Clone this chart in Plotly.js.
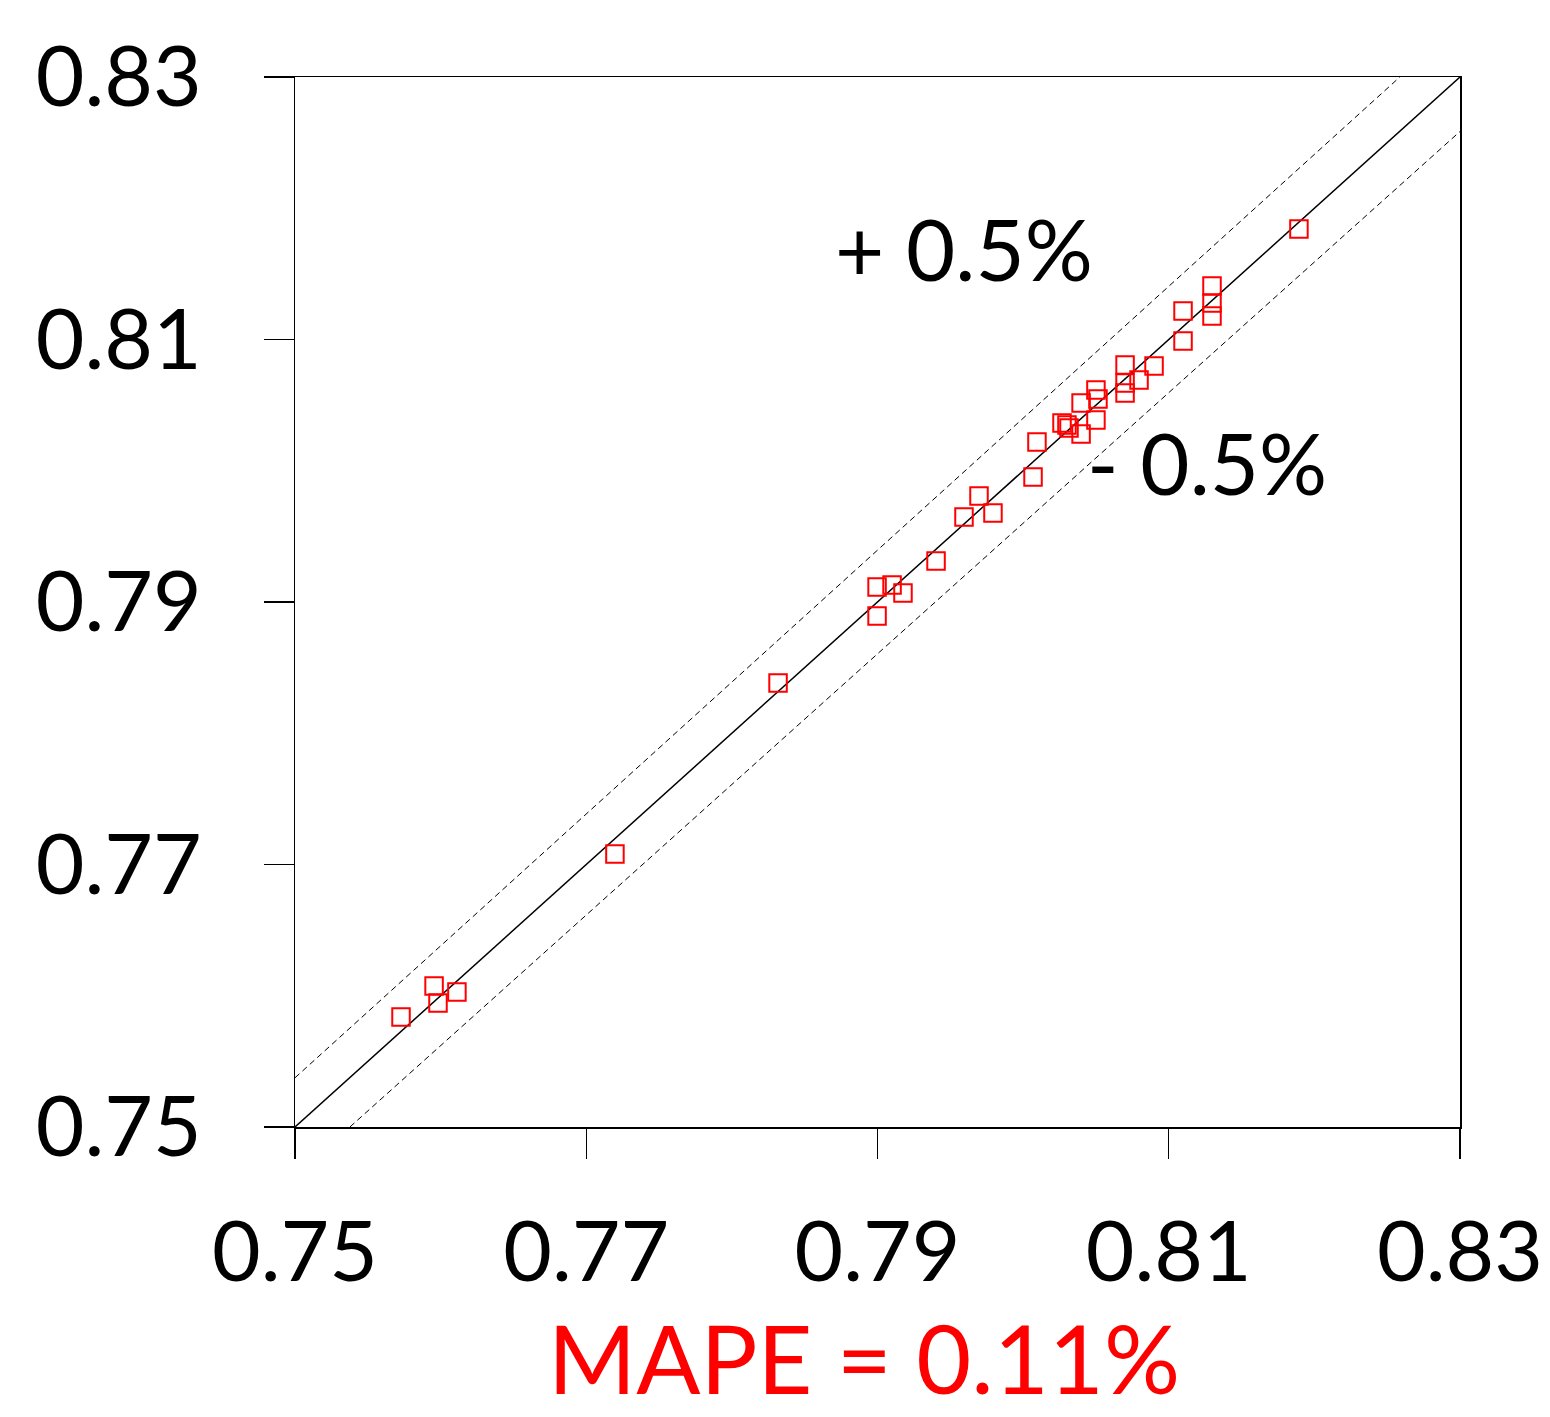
<!DOCTYPE html>
<html>
<head>
<meta charset="utf-8">
<script src="https://cdn.plot.ly/plotly-3.0.1.min.js"></script>
<style>
  html, body { margin: 0; padding: 0; background: #fff; }
  #chart { width: 1550px; height: 1417px; }
</style>
</head>
<body>
<div id="chart"></div>
<script>
const measured = [
  0.75728, 0.75955, 0.75982, 0.76112, 0.77197, 0.78317,
  0.78997, 0.78997, 0.79100, 0.79175, 0.79402, 0.79594,
  0.79697, 0.79793, 0.80068, 0.80095, 0.80267, 0.80301,
  0.80315, 0.80398, 0.80398, 0.80500, 0.80514, 0.80500,
  0.80700, 0.80700, 0.80700, 0.80796, 0.80899, 0.81098,
  0.81098, 0.81297, 0.81297, 0.81297, 0.81894
];
const predicted = [
  0.75838, 0.76074, 0.75945, 0.76029, 0.77080, 0.78383,
  0.79114, 0.78893, 0.79130, 0.79069, 0.79312, 0.79648,
  0.79808, 0.79678, 0.79952, 0.80219, 0.80364, 0.80349,
  0.80326, 0.80516, 0.80280, 0.80615, 0.80547, 0.80387,
  0.80806, 0.80669, 0.80592, 0.80691, 0.80798, 0.81217,
  0.80989, 0.81408, 0.81278, 0.81179, 0.81842
];

// Reference lines: y = x and +/-0.5% bands
const identityX = [0.75, 0.83];
const identityY = [0.75, 0.83];
const upperX = [0.75, 0.82587];
const upperY = [0.75375, 0.83];
const lowerX = [0.75377, 0.83];
const lowerY = [0.75, 0.82585];

const tickVals = [0.75, 0.77, 0.79, 0.81, 0.83];
const tickText = ["0.75", "0.77", "0.79", "0.81", "0.83"];

const upperLabel = "+ 0.5%";
const lowerLabel = "- 0.5%";
const mapeLabel = "MAPE = 0.11%";

const FONT = "Lato, 'Open Sans', sans-serif";

const traces = [
  { x: identityX, y: identityY, mode: "lines", line: { color: "#000", width: 1.5 }, hoverinfo: "skip" },
  { x: upperX, y: upperY, mode: "lines", line: { color: "#000", width: 1, dash: "6px,4px" }, hoverinfo: "skip" },
  { x: lowerX, y: lowerY, mode: "lines", line: { color: "#000", width: 1, dash: "6px,4px" }, hoverinfo: "skip" },
  { x: measured, y: predicted, mode: "markers",
    marker: { symbol: "square-open", size: 17.5, color: "#ff0000", line: { color: "#ff0000", width: 2 } } }
];

const axisCommon = {
  range: [0.75, 0.83],
  tickvals: tickVals,
  ticktext: tickText,
  ticks: "outside",
  ticklen: 30,
  tickwidth: 1.2,
  tickcolor: "#000",
  showline: true,
  linecolor: "#000",
  linewidth: 1.5,
  mirror: true,
  showgrid: false,
  zeroline: false,
  tickfont: { family: FONT, size: 84, color: "#000" }
};

const layout = {
  width: 1550,
  height: 1417,
  margin: { l: 295, r: 90, t: 77, b: 290 },
  paper_bgcolor: "#fff",
  plot_bgcolor: "#fff",
  showlegend: false,
  xaxis: Object.assign({}, axisCommon, { ticklabelstandoff: 22 }),
  yaxis: Object.assign({}, axisCommon, { ticklabelstandoff: 45 }),
  annotations: [
    { text: upperLabel, x: 0.79594, y: 0.81695, xref: "x", yref: "y",
      showarrow: false, xanchor: "center", yanchor: "middle",
      font: { family: FONT, size: 85, color: "#000" } },
    { text: lowerLabel, x: 0.81263, y: 0.80066, xref: "x", yref: "y",
      showarrow: false, xanchor: "center", yanchor: "middle",
      font: { family: FONT, size: 85, color: "#000" } },
    { text: mapeLabel, x: 0.4888, y: -0.275, xref: "paper", yref: "paper",
      showarrow: false, xanchor: "center", yanchor: "bottom",
      font: { family: FONT, size: 95, color: "#ff0000" } }
  ]
};

Plotly.newPlot("chart", traces, layout, { displayModeBar: false, staticPlot: true });
</script>
</body>
</html>
